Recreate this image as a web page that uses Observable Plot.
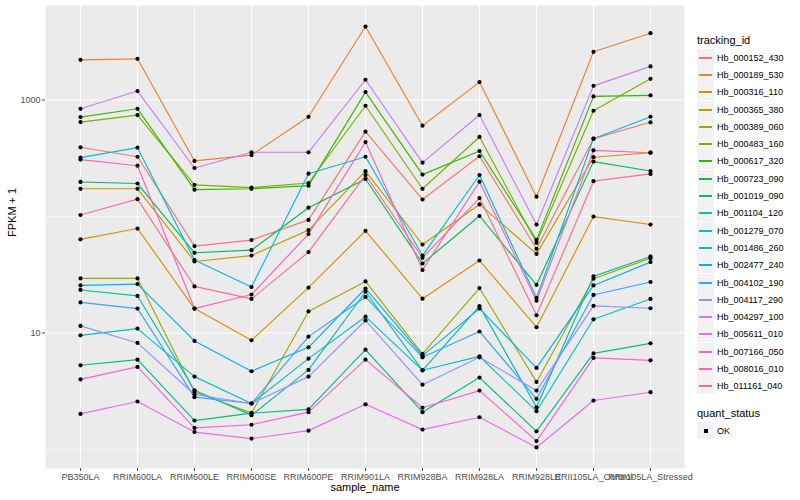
<!DOCTYPE html>
<html><head><meta charset="utf-8">
<script src="https://cdn.jsdelivr.net/npm/d3@7"></script>
<script src="https://cdn.jsdelivr.net/npm/@observablehq/plot@0.6"></script>
<style>
body{margin:0;background:#fff;font-family:"Liberation Sans",Arial,Helvetica,sans-serif;}
#wrap{position:relative;width:800px;height:500px;overflow:hidden;}
.lg{position:absolute;white-space:nowrap;color:#000;}
.key{position:absolute;width:17px;height:17px;background:#F2F2F2;}
</style></head><body><div id="wrap"></div>
<script>
const samples = ["PB350LA","RRIM600LA","RRIM600LE","RRIM600SE","RRIM600PE","RRIM901LA","RRIM928BA","RRIM928LA","RRIM928LE","RRII105LA_Control","RRII105LA_Stressed"];
const trackingIds = ["Hb_000152_430","Hb_000189_530","Hb_000316_110","Hb_000365_380","Hb_000389_060","Hb_000483_160","Hb_000617_320","Hb_000723_090","Hb_001019_090","Hb_001104_120","Hb_001279_070","Hb_001486_260","Hb_002477_240","Hb_004102_190","Hb_004117_290","Hb_004297_100","Hb_005611_010","Hb_007166_050","Hb_008016_010","Hb_011161_040"];
const colors = ["#F8766D","#EA8331","#D89000","#C09B00","#A3A500","#7CAE00","#39B600","#00BB4E","#00BF7D","#00C1A3","#00BFC4","#00BAE0","#00B0F6","#35A2FF","#9590FF","#C77CFF","#E76BF3","#FA62DB","#FF62BC","#FF6C91"];

// FPKM + 1 per sample (order of samples)
const Hb_000152_430 = [393, 326, 55.7, 62.7, 93.5, 535, 140, 329, 52.8, 466, 644];
const Hb_000189_530 = [2213, 2259, 300, 337, 719, 4276, 602, 1426, 148, 2594, 3750];
const Hb_000316_110 = [63.7, 78.8, 16.2, 8.64, 24.5, 75.3, 19.7, 41.9, 11.2, 99.8, 85.3];
const Hb_000365_380 = [173, 173, 41.1, 46.2, 76.4, 245, 57.5, 127, 47.8, 323, 353];
const Hb_000389_060 = [29.4, 29.4, 3.12, 2.05, 15.3, 27.7, 6.61, 24.3, 3.80, 29.2, 43.9];
const Hb_000483_160 = [647, 743, 187, 177, 194, 893, 173, 482, 59.4, 809, 1521];
const Hb_000617_320 = [714, 841, 170, 173, 184, 1170, 229, 365, 63, 1075, 1096];
const Hb_000723_090 = [198, 192, 48.8, 51.4, 119, 210, 39.5, 101, 25.9, 296, 246];
const Hb_001019_090 = [5.28, 5.90, 1.77, 2.05, 2.21, 7.19, 2.09, 4.14, 1.43, 6.68, 8.15];
const Hb_001104_120 = [23.4, 20.8, 3.22, 1.97, 4.82, 22.6, 4.78, 17.0, 2.30, 30.6, 45.4];
const Hb_001279_070 = [9.54, 10.9, 4.22, 2.48, 6.02, 13.8, 4.78, 6.30, 2.13, 13.1, 19.6];
const Hb_001486_260 = [320, 390, 42.3, 24.8, 233, 326, 46.2, 227, 20, 466, 719];
const Hb_002477_240 = [25.6, 26.3, 8.54, 4.69, 7.53, 24.1, 6.39, 16.2, 5.01, 25.6, 40.6];
const Hb_004102_190 = [18.3, 16.2, 2.81, 2.48, 9.30, 20.4, 6.18, 10.3, 2.72, 21.2, 27.4];
const Hb_004117_290 = [11.5, 8.21, 2.96, 2.48, 4.22, 12.8, 3.60, 6.18, 3.20, 17.1, 16.3];
const Hb_004297_100 = [841, 1194, 261, 356, 356, 1493, 290, 743, 85.3, 1324, 1945];
const Hb_005611_010 = [2.02, 2.58, 1.41, 1.24, 1.45, 2.44, 1.48, 1.89, 1.04, 2.63, 3.10];
const Hb_007166_050 = [4.00, 5.11, 1.53, 1.63, 2.09, 5.90, 2.28, 3.20, 1.18, 6.11, 5.82];
const Hb_008016_010 = [308, 273, 16.2, 21.4, 70.6, 436, 34.7, 199, 18.9, 370, 353];
const Hb_011161_040 = [103, 141, 25.1, 19.6, 49.5, 227, 44.2, 144, 14.2, 201, 232];

const majorBreaks = [10, 1000];
const minorBreaks = [1, 100];
const quantStatus = ["OK"];

const seriesValues = {Hb_000152_430, Hb_000189_530, Hb_000316_110, Hb_000365_380, Hb_000389_060, Hb_000483_160, Hb_000617_320, Hb_000723_090, Hb_001019_090, Hb_001104_120, Hb_001279_070, Hb_001486_260, Hb_002477_240, Hb_004102_190, Hb_004117_290, Hb_004297_100, Hb_005611_010, Hb_007166_050, Hb_008016_010, Hb_011161_040};

const rows = [];
for (const id of trackingIds) {
  seriesValues[id].forEach((v, i) => rows.push({id, sample: samples[i], value: v, status: quantStatus[0]}));
}
const ext = d3.extent(rows, d => Math.log10(d.value));
const pad = (ext[1] - ext[0]) * 0.05;
const yDomain = [Math.pow(10, ext[0] - pad), Math.pow(10, ext[1] + pad)];

const font = "Liberation Sans, Arial, Helvetica, sans-serif";
const plot = Plot.plot({
  width: 800, height: 500,
  marginLeft: 45, marginRight: 116, marginTop: 5, marginBottom: 32,
  style: {fontFamily: font, background: "white", overflow: "visible"},
  x: {type: "point", domain: samples, padding: 0.6, axis: null},
  y: {type: "log", domain: yDomain, axis: null},
  color: {domain: trackingIds, range: colors},
  marks: [
    Plot.frame({fill: "#EBEBEB", stroke: "none"}),
    Plot.ruleY(minorBreaks, {stroke: "white", strokeWidth: 0.55}),
    Plot.ruleY(majorBreaks, {stroke: "white", strokeWidth: 1.1}),
    Plot.ruleX(samples, {x: d => d, stroke: "white", strokeWidth: 1.1}),
    Plot.line(rows, {x: "sample", y: "value", z: "id", stroke: "id", strokeWidth: 1.15}),
    Plot.dot(rows, {x: "sample", y: "value", fill: "black", r: 2.1}),
    Plot.axisX({tickSize: 3, tickPadding: 2, fontSize: 9, color: "#4D4D4D", label: null}),
    Plot.axisY({ticks: majorBreaks, tickFormat: d => String(d), tickSize: 3, tickPadding: 2, fontSize: 9, color: "#4D4D4D", label: null}),
    Plot.text(["sample_name"], {frameAnchor: "bottom", dy: 22, fontSize: 11, fill: "black"}),
    Plot.text(["FPKM + 1"], {frameAnchor: "left", dx: -33, rotate: -90, fontSize: 11, fill: "black"})
  ]
});
const wrap = document.getElementById("wrap");
wrap.appendChild(plot);

// Legend (colors from the plot's own color scale)
const cs = plot.scale("color");
function add(html, style) { const d = document.createElement("div"); d.className = "lg"; Object.assign(d.style, style); d.innerHTML = html; wrap.appendChild(d); return d; }
add("tracking_id", {left: "697px", top: "33px", fontSize: "11px", lineHeight: "14px"});
const step = 17.3, top0 = 48.6;
trackingIds.forEach((id, i) => {
  const t = Math.round(top0 + i * step);
  const k = document.createElement("div"); k.className = "key";
  Object.assign(k.style, {left: "697px", top: t + "px", height: "17px"});
  const ln = document.createElement("div");
  Object.assign(ln.style, {position: "absolute", left: "2px", width: "13px", top: "8px", height: "1.5px", background: cs.apply(id)});
  k.appendChild(ln); wrap.appendChild(k);
  add(id, {left: "717px", top: (t + 2.5) + "px", fontSize: "9px", lineHeight: "12px"});
});
add("quant_status", {left: "697px", top: "406px", fontSize: "11px", lineHeight: "14px"});
const k2 = document.createElement("div"); k2.className = "key";
Object.assign(k2.style, {left: "697px", top: "422px", height: "17px"});
const dot = document.createElement("div");
Object.assign(dot.style, {position: "absolute", left: "6.5px", top: "6.5px", width: "4px", height: "4px", background: "black"});
k2.appendChild(dot); wrap.appendChild(k2);
add(quantStatus[0], {left: "717px", top: "424.5px", fontSize: "9px", lineHeight: "12px"});
</script></body></html>
